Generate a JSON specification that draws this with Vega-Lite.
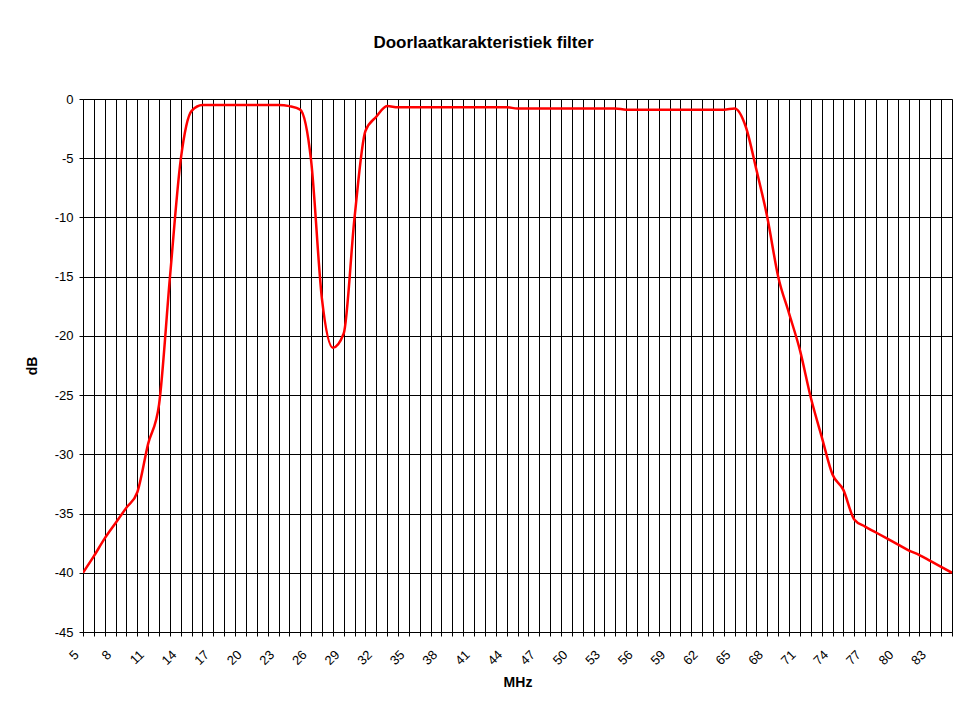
{
  "$schema": "https://vega.github.io/schema/vega-lite/v6.json",
  "autosize": "none",
  "width": 869,
  "height": 533,
  "padding": {"left": 83, "top": 99, "right": 10, "bottom": 72},
  "background": "white",
  "title": {
    "text": "Doorlaatkarakteristiek filter",
    "font": "Liberation Sans",
    "fontSize": 17,
    "fontWeight": "bold",
    "color": "black",
    "anchor": "middle",
    "dx": -34,
    "offset": 41
  },
  "config": {
    "view": {"stroke": "#808080", "strokeWidth": 1},
    "axis": {
      "labelFont": "Liberation Sans",
      "titleFont": "Liberation Sans",
      "labelFontSize": 13,
      "labelColor": "black",
      "titleColor": "black",
      "titleFontSize": 14,
      "titleFontWeight": "bold",
      "domainColor": "black",
      "tickColor": "black",
      "gridColor": "black",
      "gridOpacity": 1,
      "gridWidth": 1,
      "tickSize": 4
    }
  },
  "data": {
    "values": [
      {"MHz": 5, "dB": -40},
      {"MHz": 6, "dB": -38.6},
      {"MHz": 7, "dB": -37.1},
      {"MHz": 8, "dB": -35.8},
      {"MHz": 9, "dB": -34.5},
      {"MHz": 10, "dB": -33.2},
      {"MHz": 11, "dB": -29.1},
      {"MHz": 12, "dB": -25.8},
      {"MHz": 13, "dB": -15.1},
      {"MHz": 14, "dB": -5.1},
      {"MHz": 15, "dB": -1.0},
      {"MHz": 16, "dB": -0.5},
      {"MHz": 17, "dB": -0.5},
      {"MHz": 18, "dB": -0.5},
      {"MHz": 19, "dB": -0.5},
      {"MHz": 20, "dB": -0.5},
      {"MHz": 21, "dB": -0.5},
      {"MHz": 22, "dB": -0.5},
      {"MHz": 23, "dB": -0.5},
      {"MHz": 24, "dB": -0.6},
      {"MHz": 25, "dB": -0.9},
      {"MHz": 26, "dB": -5.2},
      {"MHz": 27, "dB": -16.9},
      {"MHz": 28, "dB": -21.0},
      {"MHz": 29, "dB": -19.8},
      {"MHz": 30, "dB": -10.0},
      {"MHz": 31, "dB": -2.7},
      {"MHz": 32, "dB": -1.5},
      {"MHz": 33, "dB": -0.6},
      {"MHz": 34, "dB": -0.7},
      {"MHz": 35, "dB": -0.7},
      {"MHz": 36, "dB": -0.7},
      {"MHz": 37, "dB": -0.7},
      {"MHz": 38, "dB": -0.7},
      {"MHz": 39, "dB": -0.7},
      {"MHz": 40, "dB": -0.7},
      {"MHz": 41, "dB": -0.7},
      {"MHz": 42, "dB": -0.7},
      {"MHz": 43, "dB": -0.7},
      {"MHz": 44, "dB": -0.7},
      {"MHz": 45, "dB": -0.8},
      {"MHz": 46, "dB": -0.8},
      {"MHz": 47, "dB": -0.8},
      {"MHz": 48, "dB": -0.8},
      {"MHz": 49, "dB": -0.8},
      {"MHz": 50, "dB": -0.8},
      {"MHz": 51, "dB": -0.8},
      {"MHz": 52, "dB": -0.8},
      {"MHz": 53, "dB": -0.8},
      {"MHz": 54, "dB": -0.8},
      {"MHz": 55, "dB": -0.9},
      {"MHz": 56, "dB": -0.9},
      {"MHz": 57, "dB": -0.9},
      {"MHz": 58, "dB": -0.9},
      {"MHz": 59, "dB": -0.9},
      {"MHz": 60, "dB": -0.9},
      {"MHz": 61, "dB": -0.9},
      {"MHz": 62, "dB": -0.9},
      {"MHz": 63, "dB": -0.9},
      {"MHz": 64, "dB": -0.9},
      {"MHz": 65, "dB": -0.8},
      {"MHz": 66, "dB": -2.3},
      {"MHz": 67, "dB": -6.0},
      {"MHz": 68, "dB": -10.0},
      {"MHz": 69, "dB": -15.0},
      {"MHz": 70, "dB": -18.1},
      {"MHz": 71, "dB": -21.2},
      {"MHz": 72, "dB": -25.2},
      {"MHz": 73, "dB": -28.5},
      {"MHz": 74, "dB": -31.7},
      {"MHz": 75, "dB": -33.0},
      {"MHz": 76, "dB": -35.5},
      {"MHz": 77, "dB": -36.1},
      {"MHz": 78, "dB": -36.6},
      {"MHz": 79, "dB": -37.1},
      {"MHz": 80, "dB": -37.6},
      {"MHz": 81, "dB": -38.1},
      {"MHz": 82, "dB": -38.5},
      {"MHz": 83, "dB": -39.0},
      {"MHz": 84, "dB": -39.5},
      {"MHz": 85, "dB": -40.0}
    ]
  },
  "mark": {"type": "line", "color": "#FF0000", "strokeWidth": 2.5, "interpolate": "monotone", "clip": true},
  "encoding": {
    "x": {
      "field": "MHz",
      "type": "quantitative",
      "scale": {"domain": [5, 85], "nice": false, "zero": false},
      "axis": {
        "title": "MHz",
        "values": [5,6,7,8,9,10,11,12,13,14,15,16,17,18,19,20,21,22,23,24,25,26,27,28,29,30,31,32,33,34,35,36,37,38,39,40,41,42,43,44,45,46,47,48,49,50,51,52,53,54,55,56,57,58,59,60,61,62,63,64,65,66,67,68,69,70,71,72,73,74,75,76,77,78,79,80,81,82,83,84,85],
        "labelExpr": "(datum.value - 5) % 3 == 0 ? '' + datum.value : ''",
        "labelAngle": -45,
        "labelAlign": "right",
        "labelBaseline": "top",
        "labelOffset": -11,
        "labelPadding": 12,
        "labelOverlap": false,
        "labelFlush": false,
        "titleY": 54,
        "titleBaseline": "alphabetic",
        "grid": true
      }
    },
    "y": {
      "field": "dB",
      "type": "quantitative",
      "scale": {"domain": [-45, 0], "nice": false, "zero": false},
      "axis": {
        "title": "dB",
        "values": [-45, -40, -35, -30, -25, -20, -15, -10, -5, 0],
        "labelExpr": "'' + datum.value",
        "labelPadding": 6,
        "labelFlush": false,
        "labelOverlap": false,
        "titleX": -47,
        "titleBaseline": "alphabetic",
        "grid": true
      }
    }
  }
}
